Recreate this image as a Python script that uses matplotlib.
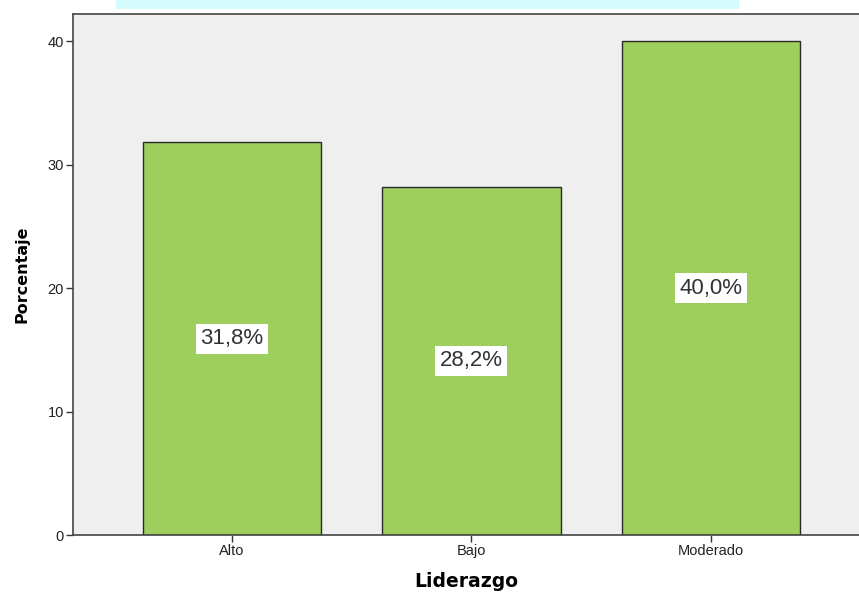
import matplotlib
matplotlib.use("Agg")
import matplotlib.pyplot as plt
from matplotlib.patches import Rectangle

categories = ["Alto", "Bajo", "Moderado"]
percentages = [31.8, 28.2, 40.0]
value_labels = ["31,8%", "28,2%", "40,0%"]
y_ticks = [0, 10, 20, 30, 40]

plt.rcParams["font.family"] = ["Liberation Sans", "DejaVu Sans"]

fig = plt.figure(figsize=(8.59, 5.94), dpi=100)
fig.patch.set_facecolor("white")

# faint banner strip along the top edge
fig.patches.append(Rectangle((0.135, 0.985), 0.725, 0.02, transform=fig.transFigure,
                             facecolor="#d6fbfd", edgecolor="none", zorder=0))

ax = fig.add_axes([0.085, 0.0993, 0.915, 0.8771])
ax.set_facecolor("#efefef")

x = list(range(len(categories)))
ax.bar(x, percentages, width=0.745, color="#9ecf5e", edgecolor="#2a2a2a", linewidth=1.0, zorder=2)

for xi, v, lab in zip(x, percentages, value_labels):
    ax.text(xi, v / 2, lab, ha="center", va="center", fontsize=16, color="#333333",
            bbox=dict(boxstyle="square,pad=0.2", facecolor="white", edgecolor="none"), zorder=3)

ax.set_xlim(-0.665, 2.62)
ax.set_ylim(0, 42.2)
ax.set_xticks(x)
ax.set_xticklabels(categories, fontsize=10.5, color="#222222")
ax.set_yticks(y_ticks)
ax.set_yticklabels([str(t) for t in y_ticks], fontsize=10.5, color="#222222")
ax.tick_params(axis="both", direction="out", length=5, width=1, color="#333333", pad=1.5)

for side in ["left", "bottom", "top"]:
    ax.spines[side].set_color("#444444")
    ax.spines[side].set_linewidth(1.2)
ax.spines["right"].set_visible(False)

ax.set_ylabel("Porcentaje", fontsize=11.5, fontweight="bold", family="DejaVu Sans", labelpad=13)
ax.set_xlabel("Liderazgo", fontsize=13.5, fontweight="bold", family="DejaVu Sans", labelpad=10)

fig.savefig("out.png", dpi=100)
